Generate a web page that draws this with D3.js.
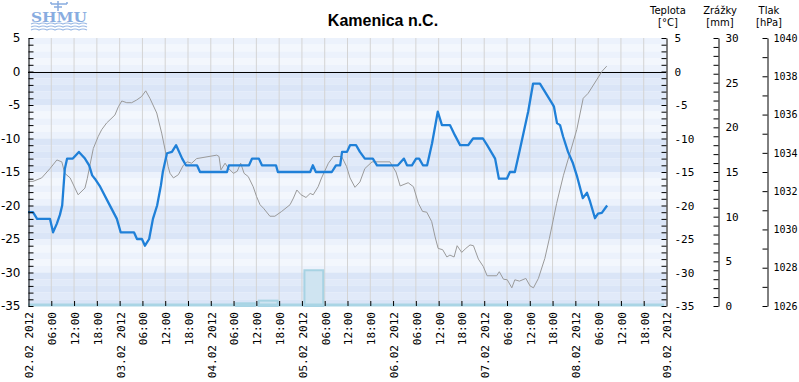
<!DOCTYPE html>
<html><head><meta charset="utf-8">
<script src="https://cdn.jsdelivr.net/npm/d3@7"></script>
<style>body{margin:0;background:#fff}svg{display:block}</style>
</head><body><svg id="c" width="799" height="382"></svg>
<script>
// hours since 02.02.2012 00:00
const tempHours = [0,1.3,2.4,5.8,6.6,7.6,8.4,9.0,9.7,10.3,11.8,13.4,15.0,16.1,16.9,17.6,19.0,21.1,23.4,24.4,27.9,28.7,30.0,30.8,31.9,32.9,34.0,35.0,35.5,36.6,37.9,39.0,40.6,41.6,44.5,45.3,52.4,52.9,58.2,59.0,60.8,61.6,65.3,65.8,74.3,75.0,75.8,80.0,81.1,82.2,82.7,84.0,84.8,86.4,87.4,88.7,90.8,91.9,97.4,99.0,99.8,101.1,102.2,103.0,104.0,105.1,106.4,107.9,109.0,111.1,112.4,113.8,115.9,117.2,119.8,120.9,123.0,124.0,126.1,126.9,128.2,129.5,131.7,133.0,134.8,136.1,138.0,138.5,139.3,140.1,140.9,142.2,143.5,144.6,146.1,147.2,148.0,149.3,150.1,151.1,152.5];
const tempValues = [-21,-21,-22,-22,-24,-22.7,-21.4,-20,-14.5,-13,-13,-12,-13,-14,-15.5,-16,-17.2,-19.5,-22,-24,-24,-25,-25,-26,-25,-22,-20,-17,-15,-12.2,-12,-11,-13,-14,-14,-15,-15,-14,-14,-13,-13,-14,-14,-15,-15,-14,-15,-15,-14,-14,-12,-12,-11,-11,-12,-13,-13,-14,-14,-13,-14,-14,-13,-13,-14,-14,-10.7,-6,-8,-8,-9.5,-11,-11,-10,-10,-11,-13,-16,-16,-15,-15,-11.7,-6,-1.8,-1.8,-3,-4.75,-5.25,-7.7,-8,-9.7,-12,-13.7,-15.7,-18.9,-18.1,-19.4,-21.9,-21.2,-21.1,-20];
const presHours = [0,1.3,3.6,5.8,7.6,8.9,9.7,11.1,13.2,15.0,15.6,16.3,17.2,18.5,19.4,20.7,21.6,22.9,23.8,24.7,26.0,27.3,28.6,29.9,31.0,32.1,33.9,35.2,36.1,36.9,37.4,38.3,39.6,40.9,41.9,43.1,44.4,49.7,50.3,50.8,51.9,52.7,54.1,55.1,56.0,56.9,58.0,59.3,60.2,61.1,62.0,63.7,65.0,66.8,69.0,69.9,70.8,71.9,73.2,74.3,75.1,76.4,77.3,79.1,80.4,82.6,83.9,84.8,86.1,87.4,88.7,90.6,95.3,96.9,98.0,100.1,101.5,102.8,103.9,105.0,106.3,107.2,108.0,109.2,110.3,111.1,112.2,113.0,114.2,115.3,116.4,117.3,118.6,119.9,120.9,123.4,124.1,125.2,126.2,127.4,128.2,129.4,131.1,132.2,133.1,134.4,136.1,137.3,139.2,141.0,142.7,144.5,146.2,147.5,149.7,151.1,152.4];
const presValues = [1032.51,1032.51,1032.69,1033.18,1033.63,1033.53,1032.93,1032.69,1031.81,1032.16,1032.65,1033.35,1034.23,1034.86,1035.21,1035.56,1035.73,1035.98,1036.41,1036.71,1036.62,1036.62,1036.76,1036.94,1037.24,1036.85,1036.08,1035.03,1034.16,1033.28,1032.93,1032.69,1032.86,1033.35,1033.53,1033.46,1033.70,1033.88,1033.81,1033.11,1033.46,1033.21,1032.93,1033.04,1033.46,1032.93,1032.76,1032.23,1031.71,1031.29,1031.11,1030.69,1030.69,1030.94,1031.29,1031.64,1032.06,1031.81,1031.67,1031.88,1031.81,1032.23,1032.69,1033.46,1033.81,1033.81,1033.28,1032.69,1032.20,1032.48,1033.18,1033.53,1033.53,1033.00,1032.27,1032.44,1032.23,1031.36,1030.94,1030.90,1030.41,1029.61,1029.01,1028.94,1028.56,1028.66,1028.56,1029.15,1028.80,1029.01,1029.19,1029.15,1028.45,1028.06,1027.58,1027.58,1027.79,1027.40,1027.37,1026.95,1027.37,1027.30,1027.44,1027.05,1026.95,1027.44,1028.49,1029.54,1031.36,1032.83,1033.98,1035.21,1036.85,1037.11,1037.80,1038.25,1038.53];
const rainStart = [54,60,72];
const rainEnd = [60,66,78];
const rainValues = [0.3,0.6,4.0];
const dayLabels = ["02.02 2012","03.02 2012","04.02 2012","05.02 2012","06.02 2012","07.02 2012","08.02 2012","09.02 2012"];
const timeLabels = ["06:00","12:00","18:00"];
const title = "Kamenica n.C.";

const svg = d3.select("#c");
const L = 28, R = 666, T = 38, B = 306;
const x = d3.scaleLinear().domain([0,168]).range([L,R]);
const yT = d3.scaleLinear().domain([-35,5]).range([B,T]);
const yR = d3.scaleLinear().domain([0,30]).range([B,T]);
const yP = d3.scaleLinear().domain([1026,1040]).range([B,T]);

// background rows
const rows = d3.range(5,-35,-1);
svg.append("g").selectAll("rect").data(rows).join("rect")
  .attr("x",L).attr("width",R-L)
  .attr("y",d=>yT(d)).attr("height",d=>yT(d-1)-yT(d))
  .attr("fill",d=>{
    const band = Math.floor((5-d)/5), row = (5-d)%5;
    if (band%2===0) return row%2===0 ? "#ecf2fc" : "#f3f7fd";
    return row%2===0 ? "#dae5f7" : "#e1eaf9";
  });
// vertical grid
const tickH = d3.range(0,169,6);
svg.append("g").selectAll("line").data(tickH.slice(1,-1)).join("line")
  .attr("x1",d=>x(d)+0.5).attr("x2",d=>x(d)+0.5).attr("y1",T).attr("y2",B)
  .attr("stroke","#d4d4d4").attr("stroke-width",1);

// precipitation bars
svg.append("g").selectAll("rect").data(rainValues).join("rect")
  .attr("x",(d,i)=>x(rainStart[i])+3).attr("width",(d,i)=>x(rainEnd[i])-x(rainStart[i])-4)
  .attr("y",d=>yR(d)).attr("height",d=>yR(0)-yR(d))
  .attr("fill","#cfe4f1").attr("stroke","#a7d3e3").attr("stroke-width",2);
svg.append("line").attr("x1",L).attr("x2",R-2).attr("y1",B-1).attr("y2",B-1)
  .attr("stroke","#a9d5e5").attr("stroke-width",3);

// zero line
svg.append("line").attr("x1",L).attr("x2",R).attr("y1",Math.round(yT(0))+0.5).attr("y2",Math.round(yT(0))+0.5)
  .attr("stroke","#000").attr("stroke-width",1);

// pressure line
const presData = presHours.map((h,i)=>[h,presValues[i]]);
svg.append("path").datum(presData)
  .attr("d",d3.line().x(d=>x(d[0])).y(d=>yP(d[1])))
  .attr("fill","none").attr("stroke","#9a9a9a").attr("stroke-width",1);
// temperature line
const tempData = tempHours.map((h,i)=>[h,tempValues[i]]);
svg.append("path").datum(tempData)
  .attr("d",d3.line().x(d=>x(d[0])).y(d=>yT(d[1])))
  .attr("fill","none").attr("stroke","#1f80d8").attr("stroke-width",2.3)
  .attr("stroke-linejoin","round");

// axes
function style(g, font, size){
  g.select(".domain").attr("stroke","#000");
  g.selectAll(".tick line").attr("stroke","#000");
  g.selectAll("text").attr("font-family",font).attr("font-size",size).attr("fill","#000");
}
const gl = svg.append("g").attr("transform",`translate(${L+0.5},0)`)
  .call(d3.axisLeft(yT).tickValues(d3.range(-35,6,1)).tickSize(-5).tickSizeOuter(0).tickPadding(8)
  .tickFormat(d=>d%5===0?String(d):""));
style(gl,"DejaVu Sans",12);
const gr = svg.append("g").attr("transform",`translate(${R+0.5},0)`)
  .call(d3.axisRight(yT).tickValues(d3.range(-35,6,1)).tickSize(-5).tickSizeOuter(0).tickPadding(8)
  .tickFormat(d=>d%5===0?String(d):""));
style(gr,"DejaVu Sans Mono",11);
const gp = svg.append("g").attr("transform",`translate(718.5,0)`)
  .call(d3.axisRight(yR).tickValues(d3.range(0,31,1)).tickSize(-5).tickSizeOuter(0).tickPadding(7)
  .tickFormat(d=>d%5===0?String(d):""));
style(gp,"DejaVu Sans Mono",11);
const gh = svg.append("g").attr("transform",`translate(767.5,0)`)
  .call(d3.axisRight(yP).tickValues(d3.range(1026,1041,1)).tickSize(-5).tickSizeOuter(0).tickPadding(6)
  .tickFormat(d=>d%2===0?String(d):""));
style(gh,"DejaVu Sans Mono",10);

const gb = svg.append("g").attr("transform",`translate(0,${B})`)
  .call(d3.axisBottom(x).tickValues(tickH).tickSize(-5).tickSizeOuter(0)
  .tickFormat(d=> d%24===0 ? dayLabels[d/24] : timeLabels[(d%24)/6-1]));
gb.select(".domain").remove();
gb.selectAll(".tick line").attr("stroke","#000").attr("transform","translate(0.5,0)");
gb.selectAll(".tick").filter(d=>d===0||d===168).select("line").remove();
gb.selectAll("text").attr("font-family","DejaVu Sans Mono").attr("font-size",11).attr("fill","#000")
  .attr("transform","rotate(-90)").attr("text-anchor","end").attr("x",-6).attr("y",1).attr("dy","0.35em");

// title & headers
svg.append("text").attr("x",383).attr("y",26).attr("text-anchor","middle")
  .attr("font-family","Liberation Sans, Arial").attr("font-weight","bold").attr("font-size",16).text(title);
const heads = [["Teplota","[°C]",668],["Zrážky","[mm]",720],["Tlak","[hPa]",769]];
heads.forEach(h=>{
  svg.append("text").attr("x",h[2]).attr("y",14).attr("text-anchor","middle")
    .attr("font-family","DejaVu Sans").attr("font-size",10).text(h[0]);
  svg.append("text").attr("x",h[2]).attr("y",26).attr("text-anchor","middle")
    .attr("font-family","DejaVu Sans").attr("font-size",10).text(h[1]);
});

// logo
const lg = svg.append("g");
lg.append("text").attr("x",59).attr("y",22).attr("text-anchor","middle")
  .attr("font-family","DejaVu Serif").attr("font-weight","bold").attr("font-size",13)
  .attr("textLength",56).attr("lengthAdjust","spacingAndGlyphs").attr("fill","#88ace0").text("SHMU");
[24,27,30].forEach(yy=>{
  let p = `M31,${yy}`;
  for (let k=0;k<7;k++) p += ` q4,-2 8,0`;
  lg.append("path").attr("d",p).attr("fill","none").attr("stroke","#9ab8e4").attr("stroke-width",1.2);
});
lg.append("path").attr("d","M58,1 v10 M51,4 h16 M51,4 v-2 M67,4 v-2 M54,7 h8")
  .attr("stroke","#88ace0").attr("stroke-width",1.5).attr("fill","none");
</script></body></html>
